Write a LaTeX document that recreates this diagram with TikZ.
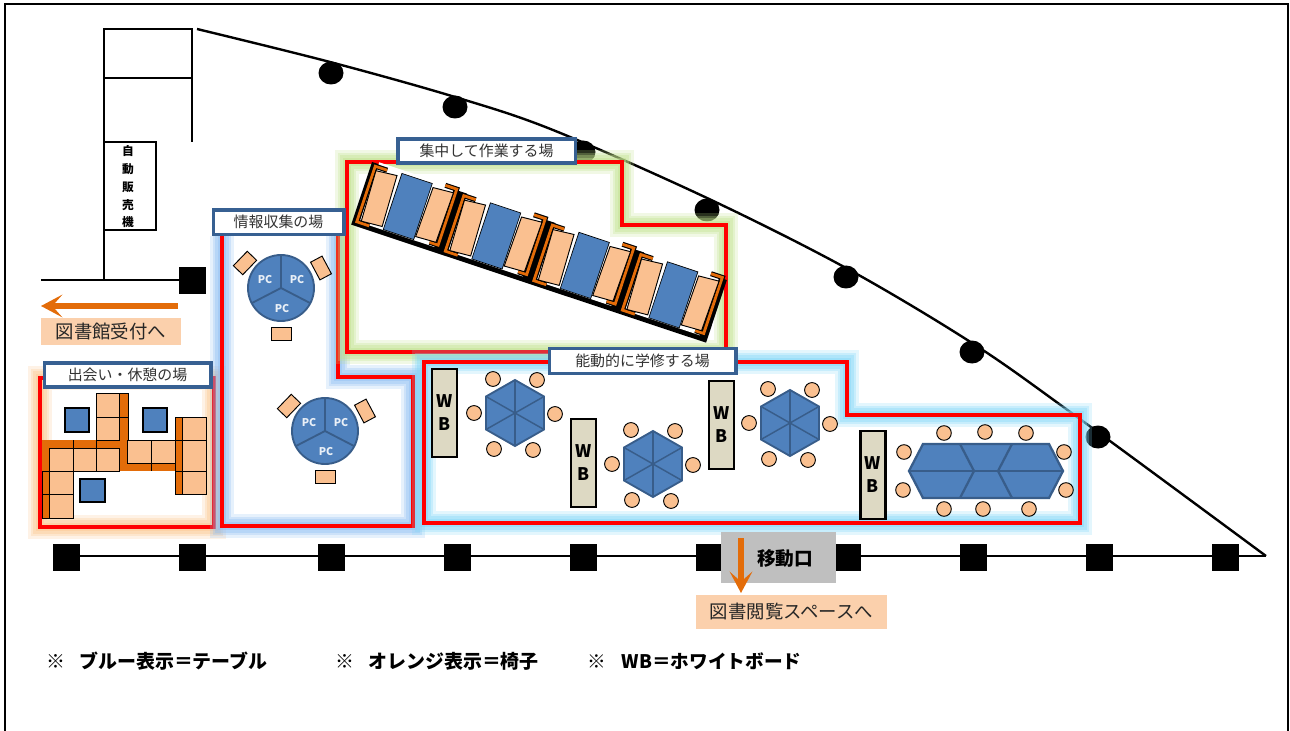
\documentclass[tikz,border=0pt]{standalone}
\usepackage{fontspec}
\setmainfont{Noto Sans CJK JP}
\usetikzlibrary{arrows.meta}
\definecolor{tableblue}{HTML}{4F81BD}
\definecolor{tableedge}{HTML}{385D8A}
\definecolor{chairpeach}{HTML}{FAC090}
\definecolor{chairorange}{HTML}{E36C09}
\definecolor{boardbeige}{HTML}{DDD9C3}
\definecolor{titleblue}{HTML}{376092}
\definecolor{notepeach}{HTML}{FBD0AC}
\definecolor{glowblue}{HTML}{8DBDF2}
\definecolor{glowcyan}{HTML}{7FD6F7}
\definecolor{glowgreen}{HTML}{BFE08A}
\definecolor{gloworange}{HTML}{FBC58C}
\tikzset{
  wall/.style={draw=black,line width=2.1pt},
  pillar/.style={fill=black},
  zone/.style={draw=red,line width=2.3pt,
    preaction={draw=#1,line width=18pt,opacity=.22},
    preaction={draw=#1,line width=14pt,opacity=.28},
    preaction={draw=#1,line width=10pt,opacity=.34},
    preaction={draw=#1,line width=6pt,opacity=.4}},
  zonetitle/.style={draw=titleblue,fill=white,line width=2.5pt,font=\fontsize{11.2}{13}\selectfont,text=black!80,inner sep=0pt,text height=9pt,text depth=1pt},
  notebox/.style={fill=notepeach,font=\fontsize{13.8}{16}\selectfont,text=black!85,inner sep=0pt},
  gorow/.style={draw=chairorange,line width=3.8pt,-{Stealth[length=16pt,width=17pt,inset=7.5pt]}},
  legend/.style={font=\bfseries\fontsize{14.2}{16}\selectfont,anchor=west,inner sep=0pt},
  board/.style={draw=black,fill=boardbeige,line width=1.8pt,font=\bfseries\fontsize{13}{17.2}\selectfont,align=center,inner sep=0pt,minimum width=18.8pt,minimum height=66pt},
  tabletop/.style={fill=tableblue,draw=tableedge,line width=1.4pt},
  seat/.style={fill=chairpeach,draw=black,line width=.7pt},
  pad/.style={fill=tableblue,draw=black,line width=1.2pt},
  strip/.style={fill=chairorange},
  chairback/.style={draw=chairorange,line width=2.1pt,preaction={draw=black,line width=3.8pt}},
  pclabel/.style={text=white!88!tableblue,font=\bfseries\fontsize{8}{9}\selectfont,inner sep=0pt}
}
\begin{document}
\begin{tikzpicture}[x=0.75pt,y=-0.75pt]
\useasboundingbox (0,0) rectangle (1290,731);
% Frame
\draw[wall] (5,731) -- (5,4) -- (1288,4) -- (1288,731);
% Outer curved wall
\draw[wall,line width=1.8pt] plot[smooth,tension=0.55] coordinates {(197,29) (330,62) (455,97) (553,130) (707,198) (846,268) (972,343) (1073,414) (1266,556)};
% Round columns
\foreach \px/\py in {331/73,455/107,583/152,707/210,846/277,972/352,1098/437}
  \fill (\px,\py) ellipse [x radius=12.5,y radius=11.5];
% Bottom wall and square columns
\draw[wall] (66,556) -- (1266,556);
\foreach \px in {66,192,331,457,583,709,847,973,1099,1225}
  \fill[pillar] ({\px-13.5},544) rectangle ({\px+13.5},571);
\fill[pillar] (179,267) rectangle (206,294);
% Entrance walls
\draw[wall] (104,280) -- (104,29) -- (192,29) -- (192,142);
\draw[wall] (104,78) -- (192,78);
\draw[wall] (41,280) -- (179,280);
% Vending machine
\node[draw=black,fill=white,line width=1.2pt,minimum width=39pt,minimum height=66pt,inner sep=0pt] (vending) at (130,186) {};
\node[font=\bfseries\fontsize{8.8}{13.3}\selectfont,align=center,inner sep=0pt] (vendingtext) at (128,187) {自\\動\\販\\売\\機};
% Zones
\draw[zone=gloworange] (40,378) rectangle (214,527);
\draw[zone=glowblue] (222,236) -- (222,526) -- (413,526) -- (413,377) -- (338,377) -- (338,236);
\draw[zone=glowgreen] (347,162) -- (622,162) -- (622,225) -- (726,225) -- (726,352) -- (347,352) -- cycle;
\draw[zone=glowcyan] (424,362) -- (847,362) -- (847,415) -- (1080,415) -- (1080,523) -- (424,523) -- cycle;
% Lounge chairs
\filldraw[strip,draw=black,line width=.7pt] (119,393) rectangle (128,417);
\filldraw[strip,draw=black,line width=.7pt] (119,417) rectangle (128,440);
\fill[strip] (42,440) rectangle (127,448);
\fill[strip] (119,448) rectangle (127,471);
\fill[strip] (127,463) rectangle (175,471);
\filldraw[strip,draw=black,line width=.7pt] (175,417) rectangle (182,440);
\filldraw[strip,draw=black,line width=.7pt] (175,440) rectangle (182,471);
\filldraw[strip,draw=black,line width=.7pt] (175,471) rectangle (182,494);
\filldraw[strip,draw=black,line width=.7pt] (42,471) rectangle (49,494);
\filldraw[strip,draw=black,line width=.7pt] (42,494) rectangle (49,518);
\fill[strip] (42,448) rectangle (49,471);
\draw[line width=.7pt] (42,471) -- (49,471);
\draw[line width=.7pt] (73,440) -- (73,448);
\draw[line width=.7pt] (96,440) -- (96,448);
\draw[line width=.7pt] (151,463) -- (151,471);
\foreach \ax/\ay/\bx/\by in {96/393/119/417,96/417/119/440,49/448/73/471,73/448/96/471,96/448/119/471,127/440/151/463,151/440/175/463,182/417/206/440,182/440/206/471,182/471/206/494,49/471/73/494,49/494/73/518}
  \filldraw[seat] (\ax,\ay) rectangle (\bx,\by);
% Lounge tables
\filldraw[pad] (65,408) rectangle (89,432);
\filldraw[pad] (143,408) rectangle (167,432);
\filldraw[pad] (80,479) rectangle (105,502);
% PC tables
\foreach \cx/\cy in {281/288,325/431} {
  \filldraw[tabletop] (\cx,\cy) circle [radius=33];
  \draw[tableedge,line width=1.4pt] (\cx,{\cy-33}) -- (\cx,\cy) -- ({\cx-29},{\cy+15});
  \draw[tableedge,line width=1.4pt] (\cx,\cy) -- ({\cx+29},{\cy+15});
  \node[pclabel] (pc\cx a) at ({\cx-16},{\cy-8}) {PC};
  \node[pclabel] (pc\cx b) at ({\cx+16},{\cy-8}) {PC};
  \node[pclabel] (pc\cx c) at ({\cx+1},{\cy+21}) {PC};
  \filldraw[seat,shift={({\cx-36},{\cy-25})},rotate=46] (-10,-6.5) rectangle (10,6.5);
  \filldraw[seat,shift={({\cx+40},{\cy-20})},rotate=-62] (-10,-6.5) rectangle (10,6.5);
  \filldraw[seat] ({\cx-10},{\cy+39}) rectangle ({\cx+10},{\cy+52});
}
% Focus desks
\begin{scope}[shift={(372,162)},rotate=-18.4]
\fill (0,0) rectangle (374,66);
\foreach \u in {0,93.3,186.6,279.9} {
  \fill[white] ({\u+7},-2) rectangle ({\u+86},61);
  \filldraw[fill=tableblue,draw=black,line width=.5pt] ({\u+32},1.4) rectangle ({\u+64},60.5);
  \draw[chairback] ({\u+17},3) -- ({\u+4.4},3) -- ({\u+4.4},61.5) -- ({\u+17.5},61.5);
  \draw[chairback] ({\u+77},-1) -- ({\u+89},-1) -- ({\u+89},58) -- ({\u+80},58);
  \filldraw[seat] ({\u+6.5},7) -- ({\u+28},5) -- ({\u+30},58) -- ({\u+8.5},59.5) -- cycle;
  \filldraw[seat] ({\u+66},5) -- ({\u+87},3.5) -- ({\u+86},56) -- ({\u+65},57) -- cycle;
}
\end{scope}
% Hexagon tables
\foreach \hx/\hy in {515/413,653/464,790/423} {
  \filldraw[tabletop] (\hx,{\hy-33}) -- ({\hx+29},{\hy-16.5}) -- ({\hx+29},{\hy+16.5}) -- (\hx,{\hy+33}) -- ({\hx-29},{\hy+16.5}) -- ({\hx-29},{\hy-16.5}) -- cycle;
  \draw[tableedge,line width=1.1pt] (\hx,{\hy-33}) -- (\hx,{\hy+33});
  \draw[tableedge,line width=1.1pt] ({\hx+29},{\hy-16.5}) -- ({\hx-29},{\hy+16.5});
  \draw[tableedge,line width=1.1pt] ({\hx-29},{\hy-16.5}) -- ({\hx+29},{\hy+16.5});
  \foreach \ox/\oy in {-22/-34,22/-33,-41/0,40/1,-21/36,18/37}
    \filldraw[seat] ({\hx+\ox},{\hy+\oy}) circle [radius=7.4];
}
% Long table
\filldraw[tabletop,line width=1.7pt] (909,471) -- (923,444) -- (1049,444) -- (1063,471) -- (1049,498) -- (923,498) -- cycle;
\draw[tableedge,line width=1.7pt] (909,471) -- (1063,471);
\draw[tableedge,line width=1.7pt] (960,444) -- (974,471) -- (960,498);
\draw[tableedge,line width=1.7pt] (1012,444) -- (998,471) -- (1012,498);
\foreach \sx/\sy in {944/433,985/432,1026/433,904/452,1064/452,903/490,1066/490,944/509,983/509,1029/509}
  \filldraw[seat] (\sx,\sy) circle [radius=7.3];
% White boards
\node[board] (wbone) at (444.5,413) {W\\B};
\node[board] (wbtwo) at (583.5,463) {W\\B};
\node[board] (wbthree) at (721.5,425) {W\\B};
\node[board] (wbfour) at (873,475) {W\\B};
% Zone titles
\node[zonetitle,minimum width=133pt,minimum height=18pt] (titlefocus) at (486.5,151) {集中して作業する場};
\node[zonetitle,minimum width=98pt,minimum height=18.5pt] (titleinfo) at (278.5,222.5) {情報収集の場};
\node[zonetitle,minimum width=125pt,minimum height=18pt] (titlemeet) at (127.5,375) {出会い・休憩の場};
\node[zonetitle,minimum width=140pt,minimum height=19pt] (titleactive) at (642.5,361) {能動的に学修する場};
% Way to reception
\coordinate (recvfrom) at (178,306);
\coordinate (recvto) at (41,306);
\draw[gorow] (recvfrom) -- (recvto);
\node[notebox,minimum width=105pt,minimum height=20.25pt] (recvnote) at (111,331.5) {図書館受付へ};
% Way to reading space
\node[fill=black!25,minimum width=86.25pt,minimum height=38.25pt,inner sep=0pt] (movebox) at (778.5,557.5) {};
\node[font=\bfseries\fontsize{14}{16}\selectfont,inner sep=0pt] (movetext) at (785,558) {移動口};
\coordinate (readfrom) at (741,538);
\coordinate (readto) at (741,593);
\draw[gorow] (readfrom) -- (readto);
\node[notebox,minimum width=143.25pt,minimum height=25.5pt] (readnote) at (791.5,612) {図書閲覧スペースへ};
% Legend
\node[legend] (noteblue) at (46,661) {※\hspace{.75em}ブルー表示＝テーブル};
\node[legend] (noteorange) at (335,661) {※\hspace{.75em}オレンジ表示＝椅子};
\node[legend,font=\bfseries\fontsize{14}{16}\selectfont] (noteboard) at (587,661) {※\hspace{.85em}WB＝ホワイトボード};
\end{tikzpicture}
\end{document}
